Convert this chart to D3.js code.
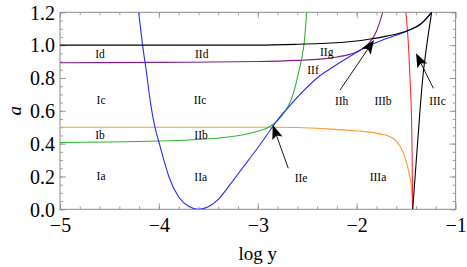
<!DOCTYPE html>
<html><head><meta charset="utf-8">
<script src="https://cdn.jsdelivr.net/npm/d3@7"></script>
<style>body{margin:0;background:#fff}svg{display:block}
svg text{font-family:'Liberation Serif','Times New Roman',Times,serif !important;}</style>
</head><body><svg id="c" width="467" height="267"></svg>
<script>
// ---- data (x = log y, y = a) ----
const xTicks = [-5, -4, -3, -2, -1];
const yTicks = [0.0, 0.2, 0.4, 0.6, 0.8, 1.0, 1.2];

const blackUpper = [[-5,1.0],[-3,1.0],[-2.6,1.005],[-2.37,1.01],[-2.0,1.025],[-1.865,1.037],[-1.7,1.055],[-1.494,1.086],[-1.35,1.13],[-1.242,1.2]];
const blackSteep = [[-1.434,0],[-1.38,0.44],[-1.32,0.867],[-1.28,1.05],[-1.242,1.2]];
const purple = [[-5,0.893],[-4,0.895],[-3,0.9],[-2.6,0.907],[-2.37,0.915],[-2.2,0.928],[-2.035,0.95],[-1.95,0.975],[-1.865,1.02],[-1.8,1.085],[-1.737,1.2]];
const green = [[-5,0.407],[-4.5,0.41],[-4,0.416],[-3.6,0.425],[-3.3,0.44],[-3.1,0.46],[-3.0,0.475],[-2.9,0.497],[-2.8,0.54],[-2.72,0.6],[-2.66,0.67],[-2.62,0.75],[-2.585,0.84],[-2.556,0.92],[-2.53,1.02],[-2.506,1.2]];
const blue = [[-4.205,1.2],[-4.165,1.0],[-4.125,0.83],[-4.09,0.67],[-4.04,0.5],[-4.0,0.41],[-3.95,0.3],[-3.9,0.2],[-3.8,0.075],[-3.7,0.018],[-3.6,0],[-3.5,0.015],[-3.4,0.06],[-3.3,0.135],[-3.2,0.215],[-3.1,0.295],[-3.0,0.375],[-2.9,0.46],[-2.8,0.545],[-2.7,0.615],[-2.573,0.7],[-2.4,0.8],[-2.236,0.868],[-2.1,0.92],[-1.9,0.99],[-1.7,1.04],[-1.494,1.085],[-1.35,1.13],[-1.242,1.2]];
const orange = [[-5,0.5],[-3,0.5],[-2.6,0.498],[-2.3,0.49],[-2.1,0.482],[-1.866,0.47],[-1.75,0.458],[-1.664,0.442],[-1.6,0.415],[-1.563,0.385],[-1.52,0.33],[-1.494,0.28],[-1.47,0.22],[-1.454,0.17],[-1.44,0.08],[-1.434,0]];
const red = [[-1.502,1.2],[-1.48,1.03],[-1.461,0.8],[-1.45,0.65],[-1.44,0.35],[-1.434,0]];

const regionLabels = [
  ["Id",-4.596,0.945],["Ic",-4.585,0.666],["Ib",-4.596,0.452],["Ia",-4.585,0.206],
  ["IId",-3.567,0.945],["IIc",-3.584,0.666],["IIb",-3.574,0.452],["IIa",-3.577,0.199],
  ["IIf",-2.442,0.848],["IIg",-2.303,0.958],["IIh",-2.152,0.66],["IIIb",-1.734,0.66],
  ["IIIc",-1.183,0.66],["IIe",-2.563,0.192],["IIIa",-1.785,0.199]
];
// arrows: [fromX, fromA, tipX, tipA]
const arrows = [[-2.692,0.25,-2.849,0.513],[-2.169,0.726,-1.825,1.031],[-1.225,0.737,-1.4,0.95]];

// ---- drawing ----
const svg = d3.select("#c");
const L = 60, R = 455.6, T = 12.3, B = 209.3;
const x = d3.scaleLinear().domain([-5,-1]).range([L,R]);
const y = d3.scaleLinear().domain([0,1.2]).range([B,T]);
const frameCol = "#8c8c8c";
const fontSerif = "'Liberation Serif','Times New Roman',Times,serif";

svg.append("defs").append("clipPath").attr("id","clip")
  .append("rect").attr("x",L).attr("y",T).attr("width",R-L).attr("height",B-T);

const xMinor = d3.range(-5,-1.0001,0.2).map(v=>+v.toFixed(2));
const yMinor = d3.range(0,1.2001,0.05).map(v=>+v.toFixed(3));

function styleAxis(g){
  g.attr("font-family",fontSerif).attr("font-size",20);
  g.select(".domain").remove();
  g.selectAll(".tick line").attr("stroke",frameCol).attr("stroke-width",0.8);
}
// minor ticks
svg.append("g").attr("transform",`translate(0,${B})`).call(d3.axisBottom(x).tickValues(xMinor).tickSize(-3).tickFormat("")).call(styleAxis);
svg.append("g").attr("transform",`translate(0,${T})`).call(d3.axisTop(x).tickValues(xMinor).tickSize(-3).tickFormat("")).call(styleAxis);
svg.append("g").attr("transform",`translate(${L},0)`).call(d3.axisLeft(y).tickValues(yMinor).tickSize(-3).tickFormat("")).call(styleAxis);
svg.append("g").attr("transform",`translate(${R},0)`).call(d3.axisRight(y).tickValues(yMinor).tickSize(-3).tickFormat("")).call(styleAxis);
// major ticks
const gx = svg.append("g").attr("transform",`translate(0,${B})`)
  .call(d3.axisBottom(x).tickValues(xTicks).tickSize(-6).tickPadding(9).tickFormat(d3.format("d"))).call(styleAxis);
gx.selectAll("text").style("font-size","20px").attr("fill","#000");
svg.append("g").attr("transform",`translate(0,${T})`).call(d3.axisTop(x).tickValues(xTicks).tickSize(-6).tickFormat("")).call(styleAxis);
const gy = svg.append("g").attr("transform",`translate(${L},0)`)
  .call(d3.axisLeft(y).tickValues(yTicks).tickSize(-6).tickPadding(5).tickFormat(d3.format(".1f"))).call(styleAxis);
gy.selectAll("text").style("font-size","20px").attr("fill","#000").attr("dy","0.34em");
svg.append("g").attr("transform",`translate(${R},0)`).call(d3.axisRight(y).tickValues(yTicks).tickSize(-6).tickFormat("")).call(styleAxis);

svg.append("rect").attr("x",L).attr("y",T).attr("width",R-L).attr("height",B-T)
  .attr("fill","none").attr("stroke",frameCol).attr("stroke-width",1);

const line = d3.line().x(d=>x(d[0])).y(d=>y(d[1])).curve(d3.curveMonotoneX);
const lineY = d3.line().x(d=>x(d[0])).y(d=>y(d[1])).curve(d3.curveMonotoneY);
const curves = svg.append("g").attr("clip-path","url(#clip)").attr("fill","none").attr("stroke-width",1.1);
curves.append("path").attr("d",line(orange)).attr("stroke","#ff9a2e");
curves.append("path").attr("d",line(green)).attr("stroke","#2fb52f");
curves.append("path").attr("d",line(purple)).attr("stroke","#7d1f86");
curves.append("path").attr("d",lineY(red)).attr("stroke","#ff2a2a");
curves.append("path").attr("d",line(blue)).attr("stroke","#2b2bff");
curves.append("path").attr("d",line(blackUpper)).attr("stroke","#000");
curves.append("path").attr("d",lineY(blackSteep)).attr("stroke","#000");

// arrows
const ag = svg.append("g");
arrows.forEach(a=>{
  const x0=x(a[0]), y0=y(a[1]), x1=x(a[2]), y1=y(a[3]);
  const dx=x1-x0, dy=y1-y0, len=Math.hypot(dx,dy), ux=dx/len, uy=dy/len;
  const hl=14, hw=5.5, notch=3;
  const bx=x1-ux*hl, by=y1-uy*hl;
  ag.append("line").attr("x1",x0).attr("y1",y0).attr("x2",bx+ux*notch).attr("y2",by+uy*notch)
    .attr("stroke","#000").attr("stroke-width",0.9);
  const pts=[[x1,y1],[bx-uy*hw,by+ux*hw],[bx+ux*notch,by+uy*notch],[bx+uy*hw,by-ux*hw]];
  ag.append("polygon").attr("points",pts.map(p=>p.join(",")).join(" ")).attr("fill","#000");
});

// region labels
svg.append("g").selectAll("text").data(regionLabels).join("text")
  .attr("x",d=>x(d[1])).attr("y",d=>y(d[2])).attr("dy","0.35em")
  .attr("text-anchor","middle").style("font-size","11.5px")
  .text(d=>d[0]);

// axis titles
svg.append("text").attr("x",(L+R)/2).attr("y",260).attr("text-anchor","middle")
  .style("font-size","19px").text("log y");
svg.append("text").attr("transform",`translate(21,${(T+B)/2}) rotate(-90)`).attr("text-anchor","middle")
  .style("font-style","italic").style("font-size","19px").text("a");
</script></body></html>
